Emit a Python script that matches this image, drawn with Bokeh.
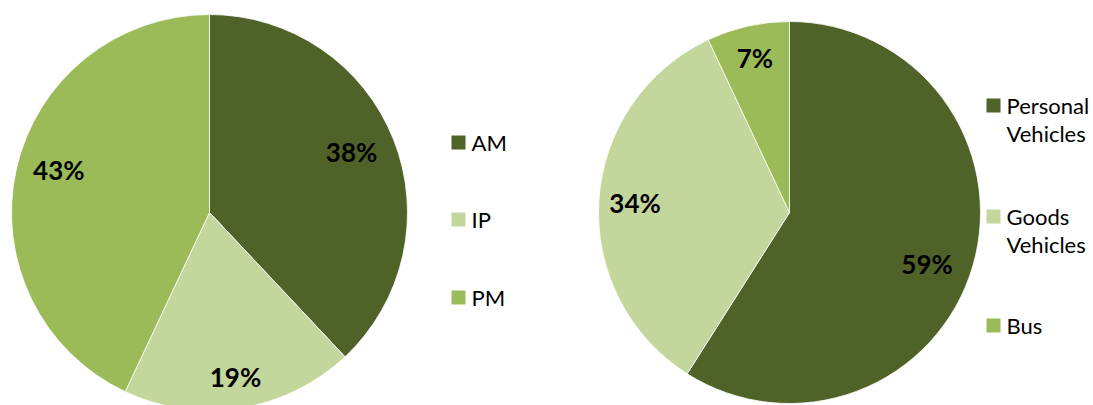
import math
from bokeh.plotting import figure
from bokeh.models import Range1d, ColumnDataSource
from bokeh.core.properties import value
from bokeh.embed import file_html
from bokeh.resources import INLINE

# Share of trips by time period
period_labels = ["AM", "IP", "PM"]
period_share = [38, 19, 43]

# Share of trips by vehicle class
vehicle_labels = ["Personal Vehicles", "Goods Vehicles", "Bus"]
vehicle_share = [59, 34, 7]

slice_colors = ["#4F6228", "#C3D69B", "#9BBB59"]

W, H = 1093, 405
FONT = "Lato"

p = figure(width=W, height=H, output_backend="svg", toolbar_location=None,
           x_range=Range1d(0, W), y_range=Range1d(0, H), min_border=0)
p.axis.visible = False
p.grid.visible = False
p.outline_line_color = None
p.background_fill_color = "white"
p.border_fill_color = "white"


def draw_pie(cx, cy, r, shares, label_r, label_turn):
    """Clockwise pie from 12 o'clock; labels sit inside each slice near its mid-angle."""
    total = float(sum(shares))
    starts, ends, lx, ly, txt = [], [], [], [], []
    cum = 0.0
    for i, s in enumerate(shares):
        a0 = math.pi / 2 - 2 * math.pi * cum / total
        a1 = math.pi / 2 - 2 * math.pi * (cum + s) / total
        mid = (a0 + a1) / 2 - math.radians(label_turn[i])
        starts.append(a0)
        ends.append(a1)
        lx.append(cx + label_r[i] * r * math.cos(mid))
        ly.append(cy + label_r[i] * r * math.sin(mid))
        txt.append(f"{s}%")
        cum += s
    src = ColumnDataSource(dict(start=starts, end=ends, color=slice_colors[:len(shares)]))
    p.wedge(x=cx, y=cy, radius=r, start_angle="start", end_angle="end",
            direction="clock", fill_color="color", line_color="white",
            line_width=0.8, source=src)
    p.text(x=lx, y=ly, text=txt, text_font=value(FONT), text_font_style="bold",
           text_font_size="26px", text_align="center", text_baseline="middle",
           text_color="black")


def draw_legend(x, ys, labels, line_gap):
    for y, lab, col in zip(ys, labels, slice_colors):
        p.rect(x=x, y=y, width=14, height=14, fill_color=col, line_color=None)
        for k, line in enumerate(lab.split(" ")):
            p.text(x=x + 13, y=y - k * line_gap, text=[line], text_font=value(FONT),
                   text_font_size="22px", text_align="left", text_baseline="middle",
                   text_color="black")


# left pie: time periods
draw_pie(209, H - 212, 198, period_share, [0.78, 0.84, 0.79], [-1.5, 0, 3])
draw_legend(458, [H - 142, H - 219, H - 297], period_labels, 28)

# right pie: vehicle classes
draw_pie(789, H - 212, 191, vehicle_share, [0.77, 0.81, 0.83], [4.5, 0, 0])
draw_legend(993, [H - 105, H - 216, H - 325], vehicle_labels, 28)

open("out.html", "w").write(file_html(p, INLINE))
